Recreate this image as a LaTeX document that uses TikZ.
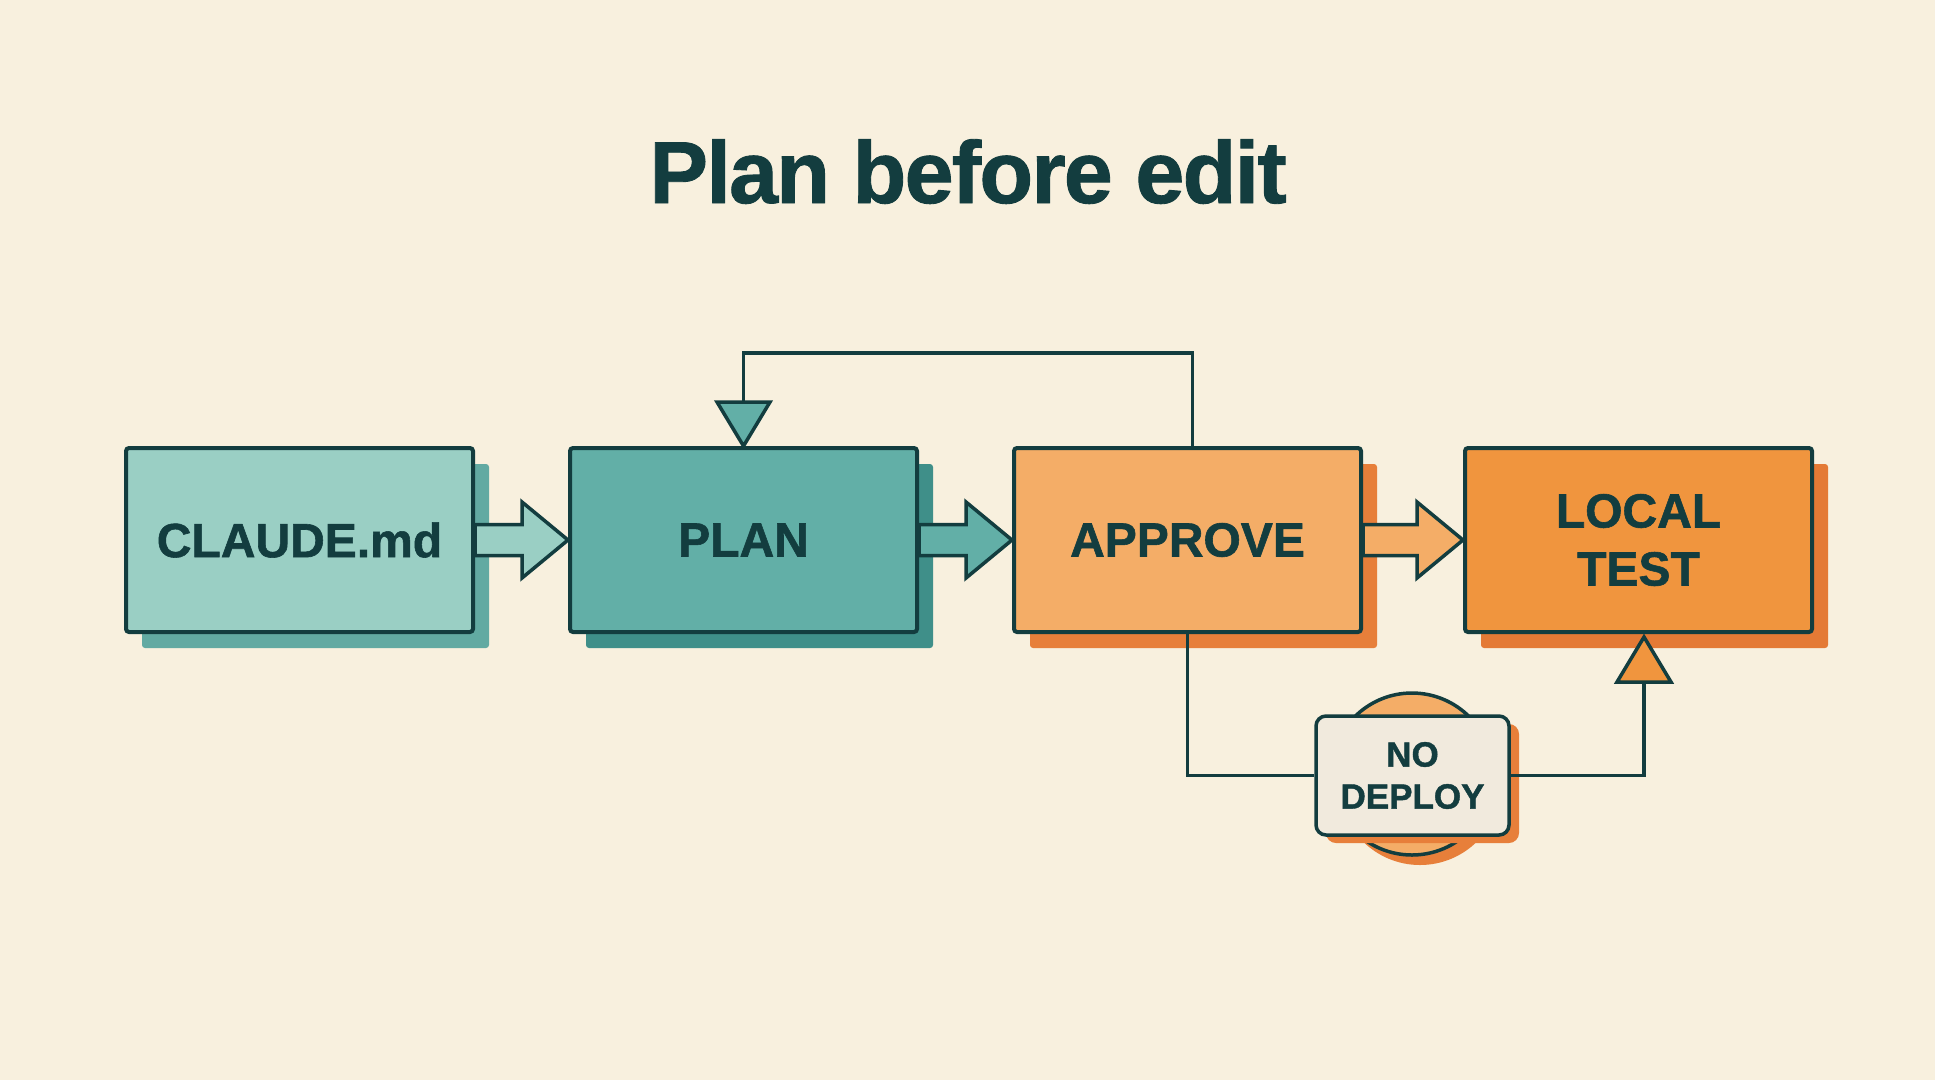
\documentclass[tikz,border=0pt]{standalone}
\usepackage{fontspec}
\setmainfont{Liberation Sans}[BoldFont={Liberation Sans Bold}, BoldFeatures={FakeBold=1.2}]
\newfontfamily\titlefont{Liberation Sans}[LetterSpace=-2, BoldFont={Liberation Sans Bold}, BoldFeatures={FakeBold=1.0}]
\usetikzlibrary{calc}
\definecolor{bg}{HTML}{F8F0DE}
\definecolor{ink}{HTML}{133D3F}
\definecolor{tealLight}{HTML}{9ACFC4}
\definecolor{tealLightSh}{HTML}{62AAA2}
\definecolor{tealMid}{HTML}{62AFA7}
\definecolor{tealMidSh}{HTML}{3F8F89}
\definecolor{orLight}{HTML}{F4AD67}
\definecolor{orLightSh}{HTML}{E77F3A}
\definecolor{orMid}{HTML}{F0953E}
\definecolor{orMidSh}{HTML}{E47A35}
\definecolor{cream}{HTML}{F1EADD}
\newcommand{\blockarrow}[3]{%
  \draw[ink, line width=3.5pt, line join=miter, fill=#3]
    let \p1=(#1.east), \p2=(#2.west) in
    (\x1,\y1+15.5pt) -- (\x2-46pt,\y1+15.5pt) -- (\x2-46pt,\y1+38pt) -- (\x2,\y1)
    -- (\x2-46pt,\y1-38pt) -- (\x2-46pt,\y1-15.5pt) -- (\x1,\y1-15.5pt) -- cycle;}
\begin{document}
\begin{tikzpicture}[x=1pt,y=-1pt,
  box/.style={draw=ink, line width=4pt, rounded corners=3pt, minimum width=347pt,
    minimum height=184pt, inner sep=0pt, text=ink, align=center,
    font=\fontsize{48}{58}\selectfont\bfseries},
  shbox/.style={rounded corners=3pt, minimum width=347pt, minimum height=184pt, inner sep=0pt},
  conn/.style={draw=ink, line width=3.5pt},
  tri/.style={draw=ink, line width=3.5pt, line join=miter}
]
\useasboundingbox (0,0) rectangle (1935,1080);
\fill[bg] (0,0) rectangle (1935,1080);

\node[text=ink, anchor=base, font=\titlefont\fontsize{88}{96}\selectfont\bfseries] (title) at (968,203) {Plan before edit};

% shadows
\node[shbox, fill=tealLightSh] (claudeS) at (315.5,556) {};
\node[shbox, fill=tealMidSh] (planS) at (759.5,556) {};
\node[shbox, fill=orLightSh] (approveS) at (1203.5,556) {};
\node[shbox, fill=orMidSh] (localS) at (1654.5,556) {};

% boxes
\node[box, fill=tealLight] (claude) at (299.5,540) {CLAUDE.md};
\node[box, fill=tealMid] (plan) at (743.5,540) {PLAN};
\node[box, fill=orLight] (approve) at (1187.5,540) {APPROVE};
\node[box, fill=orMid] (local) at (1638.5,540) {LOCAL\\TEST};

% block arrows
\blockarrow{claude}{plan}{tealLight}
\blockarrow{plan}{approve}{tealMid}
\blockarrow{approve}{local}{orLight}

% feedback loop
\coordinate (fbStart) at ([xshift=5pt]approve.north);
\coordinate (fbTop) at (1192,353);
\draw[conn] (fbStart) -- (fbStart |- fbTop) -| ([yshift=44pt]plan.north);
\draw[tri, fill=tealMid] (plan.north) -- ++(-26.5,-44) -- ++(53,0) -- cycle;

% no deploy
\fill[orLightSh] (1420,784) circle (81);
\draw[conn, fill=orLight] (1412,774) circle (81);
\node[rounded corners=10pt, fill=orLightSh, minimum width=193pt, minimum height=119pt] (ndS) at (1422.5,783.5) {};
\node[draw=ink, line width=3.5pt, rounded corners=10pt, fill=cream, minimum width=193pt,
  minimum height=119pt, inner sep=0pt, text=ink, align=center,
  font=\fontsize{35}{42}\selectfont\bfseries] (nodeploy) at (1412.5,775.5) {NO\\DEPLOY};

\coordinate (triTip) at (1644,637);
\coordinate (triBase) at (1644,682);
\draw[conn] (approve.south) |- (nodeploy.west);
\draw[conn] (nodeploy.east) -| (triBase);
\draw[tri, fill=orMid] (triTip) -- ++(-27,45) -- ++(54,0) -- cycle;
\end{tikzpicture}
\end{document}
